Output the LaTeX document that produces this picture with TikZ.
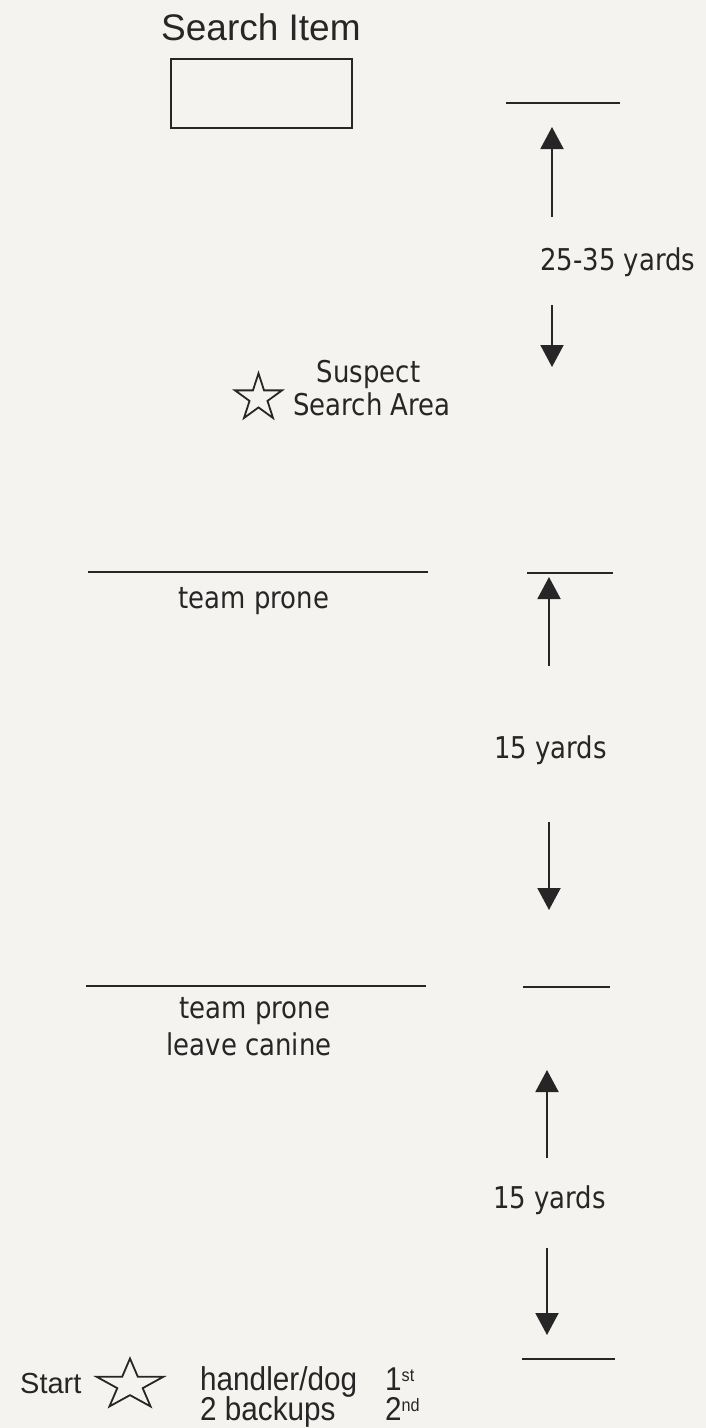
\documentclass[tikz,border=0pt]{standalone}
\usepackage{fontspec}
\setmainfont{Liberation Sans}
\newfontfamily\tah[FakeStretch=0.865]{DejaVu Sans}
\newfontfamily\narrowf[FakeStretch=0.9]{Liberation Sans}
\usetikzlibrary{arrows.meta}
\definecolor{paper}{HTML}{F5F3EF}
\definecolor{ink}{HTML}{262626}
\newcommand{\myord}[1]{\raisebox{9pt}{\fontsize{18}{20}\selectfont #1}}
\tikzset{
  rule/.style={draw=ink, line width=2pt},
  arr/.style={draw=ink, line width=2pt, -{Triangle[width=23pt,length=22pt]}},
  tlab/.style={inner sep=0pt, text=ink, font=\tah\fontsize{30}{36}\selectfont},
  alab/.style={inner sep=0pt, text=ink},
  blab/.style={inner sep=0pt, text=ink, font=\narrowf\fontsize{33}{38}\selectfont, text height=23pt, text depth=4pt},
  starshape/.style={draw=ink, line width=1.8pt, fill=none, line join=miter},
}
\begin{document}
\begin{tikzpicture}[x=1pt,y=-1pt]
\fill[paper] (0,0) rectangle (706,1428);
\useasboundingbox (0,0) rectangle (706,1428);

% Search item
\node[alab, anchor=base west, font=\fontsize{37}{42}\selectfont] (sitem) at (161,40) {Search Item};
\node[rule, minimum width=181pt, minimum height=69pt, inner sep=0pt, anchor=north west] (box) at (170,58) {};

% top right marker
\coordinate (m0a) at (506,103); \coordinate (m0b) at (620,103);
\draw[rule] (m0a) -- (m0b);
\coordinate (a1s) at (552,217); \coordinate (a1t) at (552,127);
\draw[arr] (a1s) -- (a1t);
\node[tlab, anchor=base west] (d1) at (540,270) {25-35 yards};
\coordinate (b1s) at (552,305); \coordinate (b1t) at (552,367);
\draw[arr] (b1s) -- (b1t);

% suspect search area
\begin{scope}[shift={(258.5,398)}, x=24.7pt, y=24.7pt]
  \draw[starshape] (90:1) -- (126:0.382) -- (162:1) -- (198:0.382) -- (234:1) -- (270:0.382) -- (306:1) -- (342:0.382) -- (18:1) -- (54:0.382) -- cycle;
\end{scope}
\node[tlab, anchor=base] (sus1) at (368.5,382) {Suspect};
\node[tlab, anchor=base] (sus2) at (372,415) {Search Area};

% first team prone line
\coordinate (l1a) at (88,572); \coordinate (l1b) at (428,572);
\draw[rule] (l1a) -- (l1b);
\node[tlab, anchor=base] (tp1) at (254,608) {team prone};
\coordinate (m1a) at (527,573); \coordinate (m1b) at (613,573);
\draw[rule] (m1a) -- (m1b);
\coordinate (a2s) at (549,666); \coordinate (a2t) at (549,577);
\draw[arr] (a2s) -- (a2t);
\node[tlab, anchor=base west] (d2) at (494,758) {15 yards};
\coordinate (b2s) at (549,822); \coordinate (b2t) at (549,910);
\draw[arr] (b2s) -- (b2t);

% second team prone line
\coordinate (l2a) at (86,986); \coordinate (l2b) at (426,986);
\draw[rule] (l2a) -- (l2b);
\node[tlab, anchor=base] (tp2) at (255,1018) {team prone};
\node[tlab, anchor=base] (lc) at (249,1055) {leave canine};
\coordinate (m2a) at (523,987); \coordinate (m2b) at (610,987);
\draw[rule] (m2a) -- (m2b);
\coordinate (a3s) at (547,1158); \coordinate (a3t) at (547,1070);
\draw[arr] (a3s) -- (a3t);
\node[tlab, anchor=base west] (d3) at (493,1208) {15 yards};
\coordinate (b3s) at (547,1248); \coordinate (b3t) at (547,1335);
\draw[arr] (b3s) -- (b3t);
\coordinate (m3a) at (522,1359); \coordinate (m3b) at (615,1359);
\draw[rule] (m3a) -- (m3b);

% start
\node[alab, anchor=base west, font=\fontsize{29}{34}\selectfont] (start) at (20,1393) {Start};
\begin{scope}[shift={(130,1385)}, x=35pt, y=26.5pt]
  \draw[starshape] (90:1) -- (126:0.382) -- (162:1) -- (198:0.382) -- (234:1) -- (270:0.382) -- (306:1) -- (342:0.382) -- (18:1) -- (54:0.382) -- cycle;
\end{scope}
\node[blab, anchor=base west] (hd) at (200,1390) {handler/dog};
\node[blab, anchor=base west] (bk) at (200,1420) {2 backups};
\node[blab, anchor=base west] (o1) at (385,1390) {1\myord{st}};
\node[blab, anchor=base west] (o2) at (385,1420) {2\myord{nd}};
\end{tikzpicture}
\end{document}
